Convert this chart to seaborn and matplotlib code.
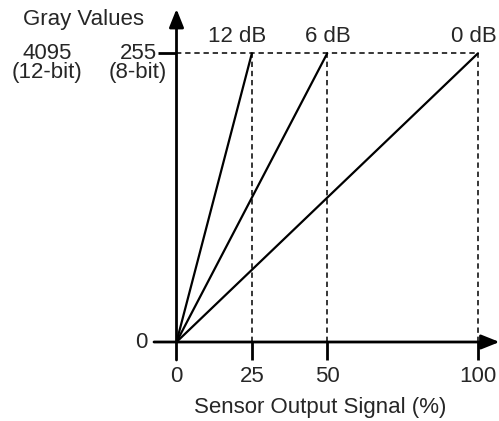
import matplotlib
matplotlib.use("Agg")
import matplotlib.pyplot as plt
import seaborn as sns
import pandas as pd

# ---- data ----
gain_labels = ["12 dB", "6 dB", "0 dB"]
saturation_pct = [25, 50, 100]     # sensor output (%) at which gray value saturates
gray_max_8bit = 255
x_ticks = [0, 25, 50, 100]
y_tick_zero = "0"
y_label_12bit = "4095\n(12-bit)"
y_label_8bit = "255\n(8-bit)"
y_title = "Gray Values"
x_title = "Sensor Output Signal (%)"

rows = []
for g, s in zip(gain_labels, saturation_pct):
    rows.append({"gain": g, "signal": 0, "gray": 0})
    rows.append({"gain": g, "signal": s, "gray": gray_max_8bit})
df = pd.DataFrame(rows)

sns.set_theme(style="white")
plt.rcParams["font.family"] = ["Liberation Sans", "DejaVu Sans"]

W, H = 499, 421
fig = plt.figure(figsize=(W / 100, H / 100), dpi=100)
ax = fig.add_axes([0, 0, 1, 1])

# pixel geometry of reference: origin (176.5, 342); x=100 -> 478 px; y=255 -> 53.3 px
sx = (478 - 176.5) / 100
sy = (342 - 53.3) / 255
ax.set_xlim(-176.5 / sx, (W - 176.5) / sx)
ax.set_ylim(-(H - 342) / sy, 342 / sy)
ax.axis("off")

def px(x):
    return (x - 176.5) / sx

def py(y):
    return (342 - y) / sy

FS = 16
black = "black"

# gain lines
sns.lineplot(data=df, x="signal", y="gray", hue="gain", units="gain", estimator=None,
             palette=[black] * 3, legend=False, lw=1.6, ax=ax, sort=False)

# dashed guide lines
dash = (0, (3.5, 2.5))
ax.plot([0, max(saturation_pct)], [gray_max_8bit] * 2, color=black, lw=1.1, linestyle=dash)
for s in saturation_pct:
    ax.plot([s, s], [0, gray_max_8bit], color=black, lw=1.1, linestyle=dash)

# axes with arrows
arrow_kw = dict(arrowstyle="-|>,head_length=0.55,head_width=0.22", color=black,
                lw=2.0, mutation_scale=20, shrinkA=0, shrinkB=0)
ax.annotate("", xy=(px(499.5), 0), xytext=(px(154), 0), arrowprops=arrow_kw)
ax.annotate("", xy=(0, py(9)), xytext=(0, py(360)), arrowprops=arrow_kw)

# ticks
for t in x_ticks[1:]:
    ax.plot([t, t], [0, py(360)], color=black, lw=2.0, solid_capstyle="butt")
ax.plot([px(158), 0], [gray_max_8bit] * 2, color=black, lw=2.0, solid_capstyle="butt")

# tick labels
for t in x_ticks:
    ax.text(t, py(376), str(t), ha="center", va="center", fontsize=FS)
ax.text(px(141), 0, y_tick_zero, ha="center", va="center", fontsize=FS)
ax.text(px(138), py(63), y_label_8bit, ha="center", va="center", fontsize=FS,
        multialignment="center", linespacing=0.9)
ax.text(px(47.5), py(63), y_label_12bit, ha="center", va="center", fontsize=FS,
        multialignment="center", linespacing=0.9)

# gain labels
gain_label_px = [237, 328, 473.5]
for g, xp in zip(gain_labels, gain_label_px):
    ax.text(px(xp), py(36), g, ha="center", va="center", fontsize=FS)

# titles
ax.text(px(83.5), py(20), y_title, ha="center", va="center", fontsize=FS)
ax.text(px(320), py(408), x_title, ha="center", va="center", fontsize=FS)

fig.savefig("out.png", dpi=100)
